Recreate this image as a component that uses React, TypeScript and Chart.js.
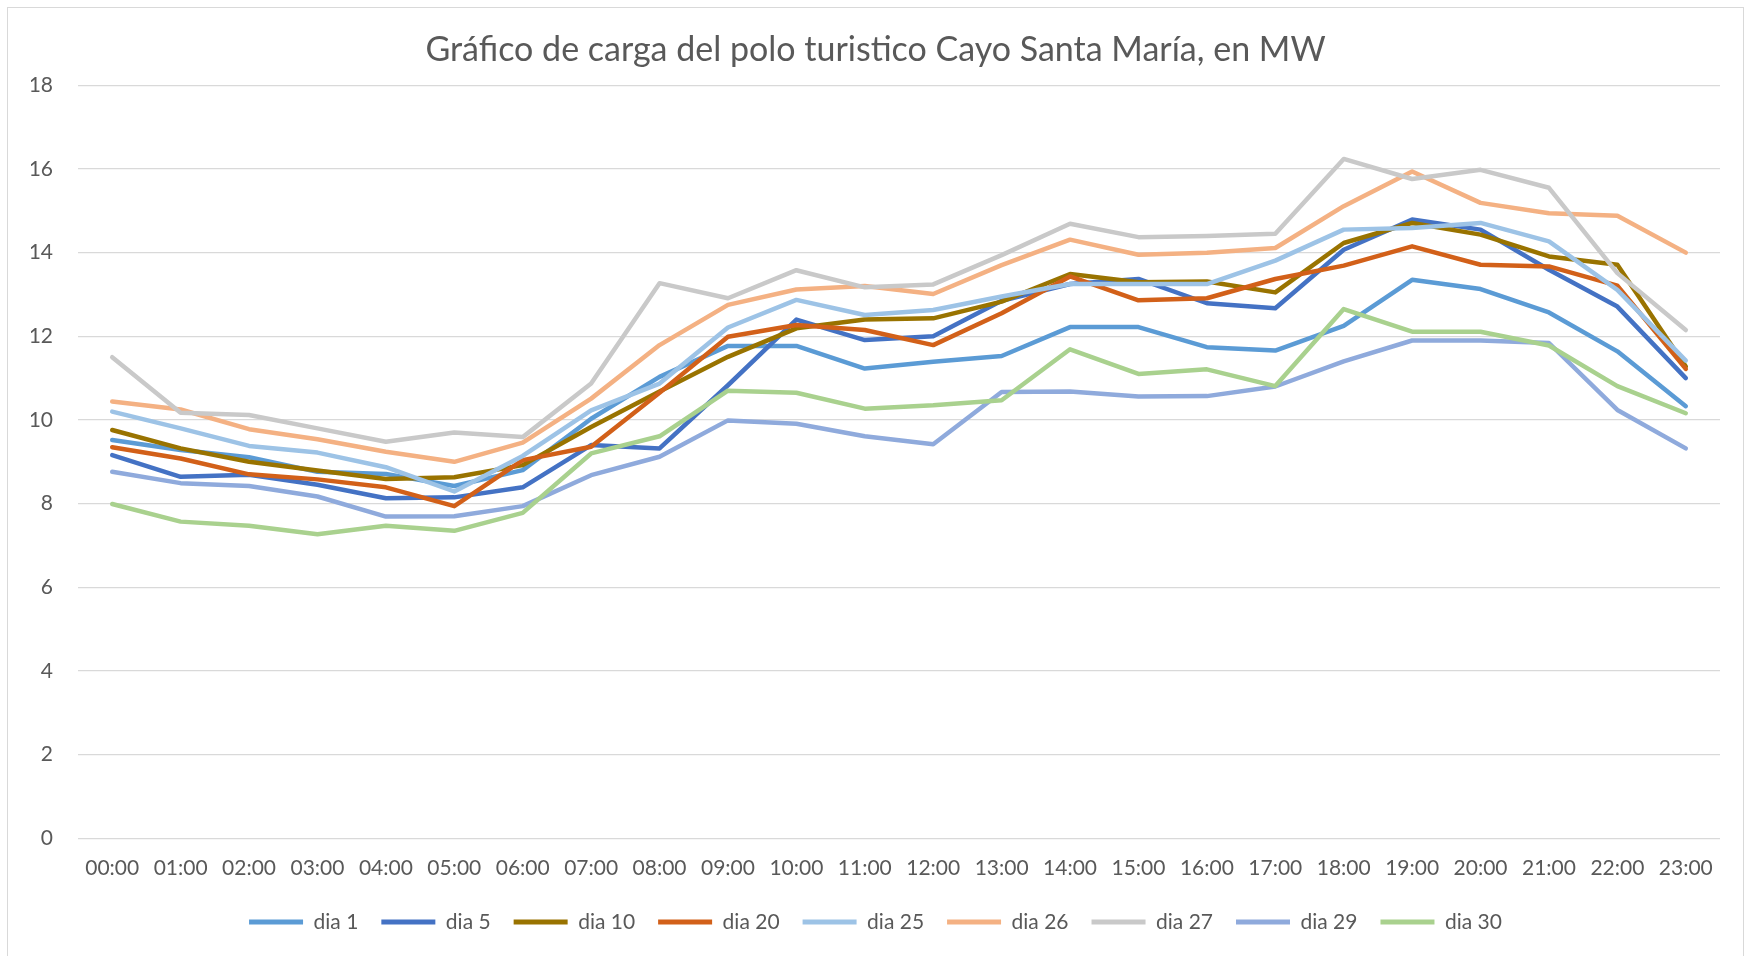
import React, { useEffect, useRef } from "react";
import { Chart, registerables } from "chart.js";

Chart.register(...registerables);

const hours = ["00:00","01:00","02:00","03:00","04:00","05:00","06:00","07:00","08:00","09:00","10:00","11:00","12:00","13:00","14:00","15:00","16:00","17:00","18:00","19:00","20:00","21:00","22:00","23:00"];

const dia1 = [9.52, 9.28, 9.11, 8.76, 8.71, 8.42, 8.80, 10.03, 11.03, 11.77, 11.77, 11.23, 11.39, 11.53, 12.22, 12.22, 11.74, 11.66, 12.25, 13.35, 13.13, 12.57, 11.64, 10.33];
const dia5 = [9.16, 8.64, 8.69, 8.45, 8.13, 8.15, 8.39, 9.40, 9.32, 10.83, 12.40, 11.91, 12.00, 12.85, 13.25, 13.37, 12.79, 12.67, 14.07, 14.79, 14.55, 13.59, 12.71, 11.00];
const dia10 = [9.76, 9.32, 9.00, 8.79, 8.59, 8.63, 8.92, 9.83, 10.68, 11.51, 12.19, 12.40, 12.43, 12.83, 13.49, 13.29, 13.31, 13.05, 14.23, 14.71, 14.43, 13.91, 13.71, 11.28];
const dia20 = [9.35, 9.08, 8.70, 8.58, 8.39, 7.94, 9.04, 9.36, 10.65, 11.99, 12.27, 12.15, 11.79, 12.55, 13.43, 12.86, 12.91, 13.37, 13.69, 14.15, 13.71, 13.67, 13.21, 11.22];
const dia25 = [10.20, 9.80, 9.38, 9.22, 8.87, 8.29, 9.14, 10.23, 10.87, 12.21, 12.87, 12.51, 12.63, 12.95, 13.25, 13.25, 13.25, 13.81, 14.55, 14.59, 14.71, 14.27, 13.11, 11.42];
const dia26 = [10.44, 10.25, 9.78, 9.54, 9.24, 9.00, 9.46, 10.51, 11.79, 12.75, 13.12, 13.20, 13.01, 13.70, 14.31, 13.95, 14.00, 14.11, 15.11, 15.94, 15.19, 14.94, 14.88, 14.00];
const dia27 = [11.50, 10.17, 10.12, 9.80, 9.48, 9.70, 9.59, 10.87, 13.27, 12.91, 13.58, 13.17, 13.24, 13.94, 14.69, 14.37, 14.40, 14.45, 16.24, 15.76, 15.98, 15.55, 13.51, 12.15];
const dia29 = [8.76, 8.49, 8.42, 8.17, 7.69, 7.70, 7.94, 8.68, 9.12, 9.99, 9.91, 9.61, 9.42, 10.67, 10.68, 10.56, 10.57, 10.80, 11.40, 11.90, 11.90, 11.84, 10.24, 9.32];
const dia30 = [7.99, 7.57, 7.47, 7.27, 7.47, 7.35, 7.78, 9.20, 9.61, 10.70, 10.65, 10.27, 10.35, 10.47, 11.69, 11.10, 11.21, 10.81, 12.65, 12.11, 12.11, 11.78, 10.81, 10.16];

const seriesNames = ["dia 1", "dia 5", "dia 10", "dia 20", "dia 25", "dia 26", "dia 27", "dia 29", "dia 30"];
const seriesValues = [dia1, dia5, dia10, dia20, dia25, dia26, dia27, dia29, dia30];
const seriesColors = ["#5B9BD5", "#4472C4", "#997300", "#D26019", "#9DC3E6", "#F4B183", "#C9C9C9", "#8FAADC", "#A9D18E"];

const titleText = "Gráfico de carga del polo turistico Cayo Santa María, en MW";

const FONT = "Lato, 'Open Sans', sans-serif";
const TEXT = "#595959";
const GRID = "#D9D9D9";

export default function App() {
  const ref = useRef<HTMLCanvasElement | null>(null);

  useEffect(() => {
    if (!ref.current) return;
    const legendPadding = 23;
    const titleSize = 34;
    const titleLine = titleSize * 1.2;
    const titleTop = 42 - titleLine / 2;
    const titleBottom = 77.3 - titleTop - titleLine;
    const chart = new Chart(ref.current, {
      type: "line",
      data: {
        labels: hours,
        datasets: seriesNames.map((name, i) => ({
          label: name,
          data: seriesValues[i],
          borderColor: seriesColors[i],
          backgroundColor: seriesColors[i],
          borderWidth: 4.5,
          pointRadius: 0,
          pointHoverRadius: 0,
          tension: 0,
          fill: false,
          borderJoinStyle: "round" as const,
          borderCapStyle: "round" as const,
          order: seriesNames.length - i,
        })),
      },
      options: {
        responsive: false,
        animation: false,
        events: [],
        layout: { padding: { left: 23, right: 23, top: 0, bottom: 13.5 } },
        plugins: {
          title: {
            display: true,
            text: titleText,
            color: TEXT,
            font: { family: FONT, size: titleSize, weight: "normal" as const },
            padding: { top: titleTop, bottom: titleBottom },
          },
          legend: {
            position: "bottom",
            labels: {
              color: TEXT,
              font: { family: FONT, size: 21 },
              boxWidth: 54,
              boxHeight: 5,
              padding: legendPadding,
              sort: (a: any, b: any) => a.datasetIndex - b.datasetIndex,
              generateLabels: (chart: any) =>
                chart.data.datasets.map((ds: any, i: number) => ({
                  text: ds.label,
                  fillStyle: ds.borderColor,
                  strokeStyle: ds.borderColor,
                  lineWidth: 0,
                  fontColor: TEXT,
                  hidden: false,
                  datasetIndex: i,
                })),
            },
          },
          tooltip: { enabled: false },
        },
        scales: {
          x: {
            offset: true,
            grid: { display: false, drawTicks: false },
            border: { display: false },
            ticks: {
              color: TEXT,
              font: { family: FONT, size: 21 },
              padding: 17,
              maxRotation: 0,
              autoSkip: false,
            },
            afterFit: (s: any) => {
              s.height = 903.5 - legendPadding - 830.3;
            },
          },
          y: {
            min: 0,
            max: 18,
            grid: { color: GRID, lineWidth: 1.2, drawTicks: false },
            border: { display: false },
            ticks: {
              stepSize: 2,
              color: TEXT,
              font: { family: FONT, size: 21 },
              padding: 25,
            },
            afterFit: (s: any) => {
              s.width = 47;
            },
          },
        },
      },
    });
    return () => chart.destroy();
  }, []);

  return (
    <div
      style={{
        position: "absolute",
        left: 7,
        top: 7,
        width: 1735,
        height: 948,
        borderTop: "1px solid #D9D9D9",
        borderLeft: "1px solid #D9D9D9",
        borderRight: "1px solid #D9D9D9",
        background: "#FFFFFF",
      }}
    >
      <canvas ref={ref} width={1735} height={948} style={{ display: "block", width: 1735, height: 948 }} />
    </div>
  );
}
